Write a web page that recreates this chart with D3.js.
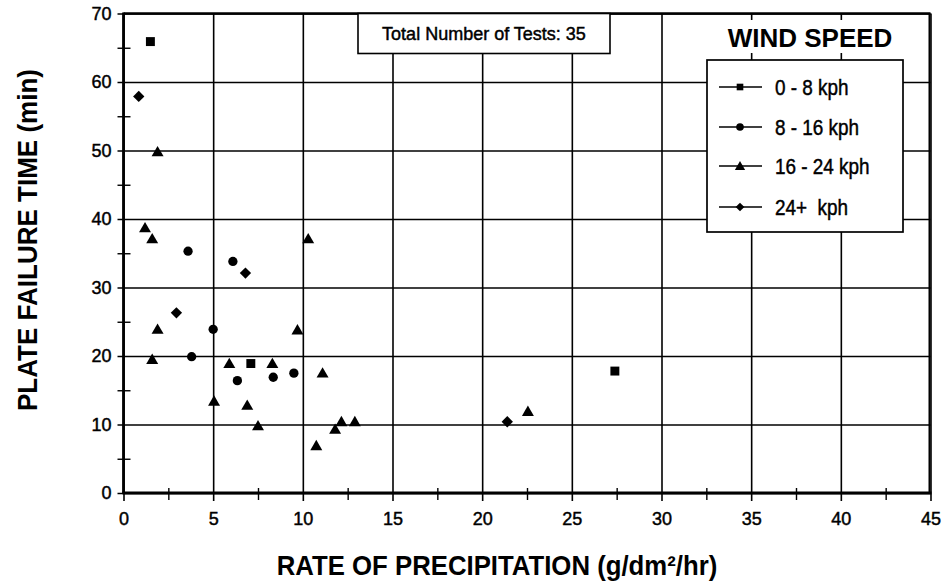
<!DOCTYPE html>
<html><head><meta charset="utf-8">
<script src="https://cdn.jsdelivr.net/npm/d3@7"></script>
<style>
body{margin:0;background:#fff}
text{font-family:"Liberation Sans",Arial,Helvetica,sans-serif;fill:#000}
.heavy{stroke:#000;stroke-width:0.45px}
</style>
</head><body>
<svg id="c" width="943" height="583"></svg>
<script>
// ---- data ----
const xMajorTicks = [0,5,10,15,20,25,30,35,40,45];
const xMinorTicks = [2.5,7.5,12.5,17.5,22.5,27.5,32.5,37.5,42.5];
const yMajorTicks = [0,10,20,30,40,50,60,70];
const yMinorTicks = [5,15,25,35,45,55,65];
const seriesNames = ["0 - 8 kph","8 - 16 kph","16 - 24 kph","24+  kph"];
const xTitle = "RATE OF PRECIPITATION (g/dm\u00B2/hr)";
const yTitle = "PLATE FAILURE TIME (min)";
const noteText = "Total Number of Tests: 35";
const legendTitle = "WIND SPEED";

const wind0_8_x  = [1.5, 7.1, 27.4];
const wind0_8_y  = [65.9, 18.9, 17.8];
const wind8_16_x = [3.6, 6.1, 5.0, 3.8, 6.35, 8.35, 9.5];
const wind8_16_y = [35.3, 33.8, 23.9, 19.9, 16.4, 16.9, 17.5];
const wind16_24_x = [1.2, 1.6, 1.9, 1.9, 1.6, 10.3, 9.7, 5.9, 8.3, 5.05, 6.9, 7.5, 11.1, 10.75, 11.8, 12.15, 12.9, 22.55];
const wind16_24_y = [38.7, 37.1, 49.8, 23.9, 19.5, 37.1, 23.8, 18.9, 18.9, 13.4, 12.8, 9.8, 17.5, 6.9, 9.3, 10.4, 10.4, 11.9];
const wind24_x = [0.85, 2.95, 6.8, 21.4];
const wind24_y = [57.9, 26.3, 32.1, 10.4];

// ---- setup ----
const svg = d3.select("#c");
const L = 123.5, R = 930.5, T = 13.5, B = 493;
const x = d3.scaleLinear().domain([0,45]).range([L,R]);
const y = d3.scaleLinear().domain([0,70]).range([B,T]);

// x gridlines + labels
const gx = svg.append("g").attr("transform",`translate(0,${B+8})`)
  .call(d3.axisBottom(x).tickValues(xMajorTicks).tickSize(-(B+8-T)).tickSizeOuter(0).tickPadding(11).tickFormat(d3.format("d")));
gx.select(".domain").remove();
gx.selectAll("line").attr("stroke","#000").attr("stroke-width",1.6);
gx.selectAll("text").style("font-size","18px").attr("fill","#000").attr("class","heavy");
// x minor ticks
const gxm = svg.append("g").attr("transform",`translate(0,${B-5})`)
  .call(d3.axisBottom(x).tickValues(xMinorTicks).tickSize(12).tickFormat(""));
gxm.select(".domain").remove();
gxm.selectAll("line").attr("stroke","#000").attr("stroke-width",1.4);

// y gridlines + labels
const gy = svg.append("g").attr("transform",`translate(${L-6},0)`)
  .call(d3.axisLeft(y).tickValues(yMajorTicks).tickSize(-(R-L+6)).tickSizeOuter(0).tickPadding(6).tickFormat(d3.format("d")));
gy.select(".domain").remove();
gy.selectAll("line").attr("stroke","#000").attr("stroke-width",1.6);
gy.selectAll("text").style("font-size","18px").attr("fill","#000").attr("class","heavy");
// y minor ticks
const gym = svg.append("g").attr("transform",`translate(${L+7},0)`)
  .call(d3.axisLeft(y).tickValues(yMinorTicks).tickSize(13).tickFormat(""));
gym.select(".domain").remove();
gym.selectAll("line").attr("stroke","#000").attr("stroke-width",1.4);

// frame
svg.append("line").attr("x1",L).attr("x2",L).attr("y1",T-1).attr("y2",B+1).attr("stroke","#000").attr("stroke-width",2.8);
svg.append("line").attr("x1",L-1).attr("x2",R+1).attr("y1",B).attr("y2",B).attr("stroke","#000").attr("stroke-width",2.8);
svg.append("line").attr("x1",L).attr("x2",R).attr("y1",T).attr("y2",T).attr("stroke","#000").attr("stroke-width",2.4);
svg.append("line").attr("x1",R-1).attr("x2",R-1).attr("y1",T).attr("y2",B).attr("stroke","#000").attr("stroke-width",2);

// note box
svg.append("rect").attr("x",358).attr("y",T).attr("width",252).attr("height",40)
  .attr("fill","#fff").attr("stroke","#000").attr("stroke-width",1.6);
svg.append("text").attr("x",484).attr("y",39.5).attr("text-anchor","middle").attr("class","heavy")
  .style("font-size","18px").text(noteText);

// legend title background and title
svg.append("rect").attr("x",715).attr("y",20).attr("width",208).attr("height",33).attr("fill","#fff");
svg.append("text").attr("x",810).attr("y",46.5).attr("text-anchor","middle")
  .style("font-size","26px").style("font-weight","bold").text(legendTitle);

// symbols
const shapes = [
  d3.symbol().type(d3.symbolSquare),
  d3.symbol().type(d3.symbolCircle),
  d3.symbol().type(d3.symbolTriangle),
  d3.symbol().type(d3.symbolSquare)
];
const plotSizes = [80, 68, 62, 64];
const legSizes = [44, 46, 46, 38];
const rotations = [0,0,0,45];

const series = [
  {xs: wind0_8_x, ys: wind0_8_y},
  {xs: wind8_16_x, ys: wind8_16_y},
  {xs: wind16_24_x, ys: wind16_24_y},
  {xs: wind24_x, ys: wind24_y}
];
series.forEach((s,i)=>{
  const pts = s.xs.map((v,j)=>[v,s.ys[j]]);
  svg.append("g").selectAll("path").data(pts).join("path")
    .attr("d", shapes[i].size(plotSizes[i])())
    .attr("transform", d=>`translate(${x(d[0])},${y(d[1]) + (i===2?1:0)}) rotate(${rotations[i]})`)
    .attr("fill","#000");
});

// legend box
svg.append("rect").attr("x",707).attr("y",60).attr("width",196).attr("height",172)
  .attr("fill","#fff").attr("stroke","#000").attr("stroke-width",1.7);
const rowY = [87, 127, 166, 207];
seriesNames.forEach((name,i)=>{
  const g = svg.append("g").attr("transform",`translate(0,${rowY[i]})`);
  g.append("line").attr("x1",719).attr("x2",762).attr("y1",0).attr("y2",0).attr("stroke","#000").attr("stroke-width",1.3);
  g.append("path").attr("d", shapes[i].size(legSizes[i])())
    .attr("transform",`translate(740,${i===2?1:0}) rotate(${rotations[i]})`).attr("fill","#000");
  g.append("text").attr("transform","translate(775,8) scale(0.86,1)").attr("class","heavy")
    .style("font-size","22px").style("white-space","pre").text(name);
});

// axis titles
svg.append("text").attr("transform","translate(497,575) scale(0.92,1)").attr("text-anchor","middle")
  .style("font-size","28px").style("font-weight","bold").text(xTitle);
svg.append("text").attr("transform","translate(37,240) rotate(-90) scale(0.93,1)").attr("text-anchor","middle")
  .style("font-size","28px").style("font-weight","bold").text(yTitle);
</script>
</body></html>
